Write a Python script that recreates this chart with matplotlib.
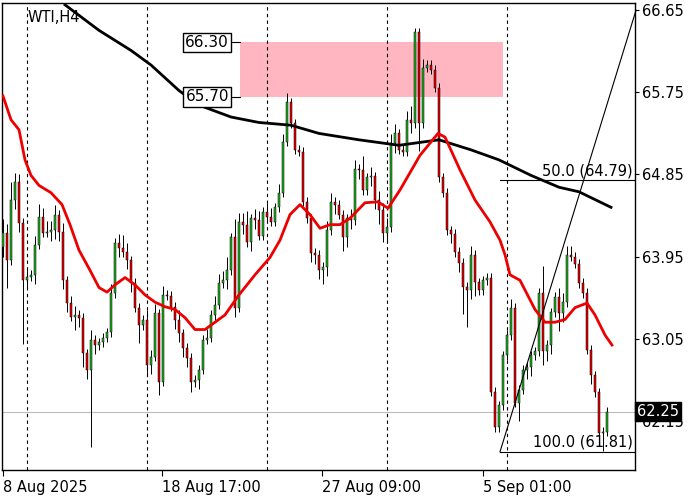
import matplotlib
matplotlib.use("Agg")
import matplotlib.pyplot as plt
from matplotlib.patches import Rectangle
import numpy as np

closes = [64.21,63.91,64.57,64.77,64.32,63.69,63.73,63.75,64.08,64.38,64.21,64.22,64.24,64.41,64.22,63.69,63.44,63.29,63.31,63.28,
62.89,62.71,63.04,62.98,63.01,63.06,63.12,63.55,64.10,64.04,64.00,63.91,63.66,63.39,63.20,63.26,62.76,62.85,63.33,62.58,
63.53,63.52,63.40,63.26,63.11,62.95,62.84,62.57,62.60,62.71,63.04,63.06,63.31,63.42,63.66,63.69,63.80,64.16,63.39,64.33,
64.30,64.11,64.37,64.35,64.18,64.44,64.38,64.33,64.49,64.65,65.21,65.64,65.41,65.12,65.10,64.55,64.37,63.99,63.97,63.80,
63.84,64.24,64.55,64.52,64.41,64.16,64.37,64.35,64.91,64.90,64.68,64.82,64.83,64.57,64.46,64.21,64.27,65.19,65.30,65.12,
65.10,65.45,65.41,66.41,65.41,66.02,66.05,66.00,65.80,64.82,64.65,64.24,64.20,64.00,63.88,63.62,63.58,63.97,63.67,63.58,
63.69,63.72,62.47,62.08,62.32,62.87,63.09,63.39,62.35,62.49,62.71,62.74,62.87,62.91,63.55,62.91,62.98,63.34,63.51,63.33,
63.45,63.97,63.95,63.87,63.66,63.55,62.93,62.65,62.46,62.02,62.03,62.25]
first_open = 64.05
wick_up = [0.15,0.1,0.2,0.1,0.08,0.05,0.1,0.05,0.1,0.15,0.1,0.12,0.1,0.1,0.05,0.1,0.05,0.08,0.1,0.05,
0.05,0.05,0.1,0.05,0.05,0.05,0.05,0.1,0.05,0.1,0.15,0.1,0.05,0.05,0.05,0.05,0.1,0.08,0.1,0.05,
0.1,0.05,0.05,0.05,0.1,0.05,0.05,0.05,0.05,0.05,0.05,0.1,0.05,0.1,0.1,0.1,0.15,0.05,0.2,0.1,
0.1,0.15,0.05,0.1,0.1,0.05,0.1,0.1,0.05,0.1,0.08,0.1,0.05,0.05,0.05,0.05,0.05,0.05,0.05,0.05,
0.05,0.1,0.1,0.05,0.05,0.05,0.05,0.1,0.1,0.05,0.15,0.05,0.1,0.05,0.1,0.08,0.1,0.1,0.1,0.05,
0.05,0.1,0.15,0.05,0.05,0.1,0.05,0.05,0.05,0.05,0.05,0.05,0.05,0.05,0.05,0.05,0.05,0.1,0.05,0.05,
0.05,0.05,0.05,0.05,0.05,0.05,0.05,0.1,0.05,0.05,0.05,0.05,0.05,0.05,0.05,0.3,0.05,0.05,0.05,0.1,
0.1,0.1,0.1,0.05,0.05,0.05,0.05,0.05,0.05,0.05,0.05,0.05]
wick_dn = [0.1,0.3,0.05,0.1,0.1,0.7,0.1,0.05,0.1,0.05,0.05,0.05,0.1,0.1,0.1,0.1,0.1,0.05,0.15,0.1,
0.15,0.1,0.85,0.1,0.05,0.05,0.05,0.05,0.05,0.1,0.05,0.1,0.1,0.05,0.2,0.05,0.1,0.1,0.05,0.15,
0.05,0.05,0.05,0.1,0.1,0.1,0.1,0.1,0.05,0.1,0.05,0.05,0.05,0.05,0.05,0.05,0.1,0.05,0.1,0.05,
0.1,0.05,0.1,0.1,0.05,0.05,0.05,0.05,0.05,0.05,0.05,0.05,0.05,0.05,0.05,0.05,0.05,0.1,0.1,0.1,
0.15,0.1,0.05,0.1,0.05,0.15,0.1,0.1,0.05,0.1,0.05,0.05,0.1,0.1,0.15,0.1,0.1,0.05,0.1,0.05,
0.05,0.05,0.1,0.05,0.3,0.05,0.05,0.05,0.05,0.05,0.05,0.05,0.1,0.05,0.1,0.3,0.4,0.1,0.15,0.05,
0.05,0.05,0.05,0.05,0.05,0.05,0.05,0.05,0.05,0.2,0.05,0.1,0.1,0.05,0.05,0.15,0.1,0.1,0.05,0.2,
0.1,0.05,0.05,0.05,0.05,0.05,0.05,0.1,0.05,0.05,0.2,0.05]

black_idx = [15.5,24,32,37,44,49,57,64,72,79,89,99,109,117,124,132,139,144,152]
black_val = [66.71,66.43,66.21,66.05,65.77,65.61,65.48,65.42,65.39,65.30,65.23,65.17,65.23,65.12,65.01,64.84,64.71,64.66,64.49]
red_idx = [0,2,4,5.5,7,9,12,14.75,16.75,19,21.75,24,26,28,30.5,33,35.5,38,40.5,43,45.5,48,50.5,53,55.5,59,63,66.75,69.25,71.75,
74.25,76.75,79.25,81.75,84.25,86.75,90.5,93.75,96.25,99.25,104.25,108.75,110.5,114.25,118,121.75,124.25,125.5,126.75,129.25,
133,135.5,138,140.5,143,146,148,150.5,152.25]
red_val = [65.71,65.45,65.34,65.01,64.84,64.73,64.65,64.52,64.30,64.02,63.80,63.61,63.56,63.64,63.72,63.64,63.53,63.45,63.40,63.37,
63.28,63.15,63.15,63.23,63.31,63.53,63.75,63.94,64.13,64.41,64.52,64.41,64.26,64.30,64.30,64.37,64.54,64.55,64.48,64.68,
65.06,65.30,65.26,64.90,64.57,64.33,64.13,63.97,63.75,63.69,63.37,63.23,63.23,63.26,63.39,63.44,63.31,63.09,62.98]

ytick_vals = [66.65,65.75,64.85,63.95,63.05,62.15]
date_idx = [0,39.75,79.75,120]
date_labels = ["8 Aug 2025","18 Aug 17:00","27 Aug 09:00","5 Sep 01:00"]
sep_idx = [6,36,66,96,126]
zone = (66.30, 65.70)
fib_top, fib_bot = 64.79, 61.81
last_price = 62.25

fig = plt.figure(figsize=(7,5), dpi=100)
ax = fig.add_axes([2/700, 30/500, 633/700, 467/500])
ax.set_xlim(-0.25, 158)
ax.set_ylim(61.61, 66.73)

opens = [first_open] + closes[:-1]
for i,(o,c) in enumerate(zip(opens, closes)):
    hi = max(o,c)+wick_up[i]; lo = min(o,c)-wick_dn[i]
    ax.vlines(i, lo, hi, color='black', lw=0.7, zorder=3)
    col = '#22b022' if c >= o else '#e60000'
    ax.add_patch(Rectangle((i-0.35, min(o,c)), 0.7, max(abs(c-o),0.01), facecolor=col, edgecolor='black', lw=0.35, zorder=4))

for s in sep_idx:
    ax.axvline(s, color='black', ls=(0,(3,3)), lw=0.8, zorder=1)
ax.axhline(last_price, color='#bbbbbb', lw=0.8, zorder=1)

ax.plot(black_idx, black_val, color='black', lw=2, zorder=5)
ax.plot(red_idx, red_val, color='#ee0000', lw=2, zorder=5)

ax.add_patch(Rectangle((59.25, zone[1]), 125-59.25, zone[0]-zone[1], facecolor='#ffb6c1', edgecolor='none', zorder=0.5))
for v in zone:
    ax.plot([56.5,59.25],[v,v], color='black', lw=0.8)
    ax.text(56.5, v, f"{v:.2f}", ha='right', va='center', fontsize=11, fontfamily='DejaVu Sans',
            bbox=dict(facecolor='white', edgecolor='black', lw=1, pad=1.5), zorder=6)

fx0, fx1 = 124.25, 158
ax.plot([fx0,fx1],[fib_top,fib_top], color='black', lw=0.8, zorder=6)
ax.plot([fx0,fx1],[fib_bot,fib_bot], color='black', lw=0.8, zorder=6)
ax.plot([fx0,158.25],[fib_bot,66.65], color='black', lw=0.8, zorder=6, clip_on=False)
ax.text(157.5, fib_top+0.02, f"50.0 ({fib_top:.2f})", ha='right', va='bottom', fontsize=10.5, zorder=7)
ax.text(157.5, fib_bot+0.02, f"100.0 ({fib_bot:.2f})", ha='right', va='bottom', fontsize=10.5, zorder=7)

ax.text(0.04, 0.985, "WTI,H4", transform=ax.transAxes, ha='left', va='top', fontsize=10.5)

ax.yaxis.tick_right()
ax.set_yticks(ytick_vals)
ax.set_yticklabels([f"{v:.2f}" for v in ytick_vals], fontsize=10.5)
ax.tick_params(axis='y', length=3, pad=2)
ax.text(1.003, last_price, f"{last_price:.2f}", transform=ax.get_yaxis_transform(), ha='left', va='center',
        fontsize=10.5, color='white', bbox=dict(facecolor='black', edgecolor='black', pad=1.5), zorder=8, clip_on=False)

ax.set_xticks(date_idx)
ax.set_xticklabels(date_labels, fontsize=10.5, ha='left')
ax.tick_params(axis='x', length=4, pad=3)
for sp in ax.spines.values():
    sp.set_linewidth(1)
fig.savefig("out.png", dpi=100)
